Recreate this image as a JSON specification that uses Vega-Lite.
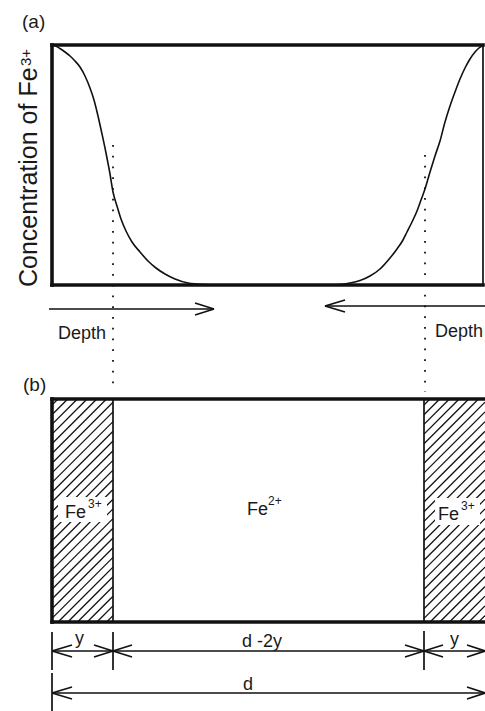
{
  "$schema": "https://vega.github.io/schema/vega-lite/v6.json",
  "width": 485,
  "height": 711,
  "autosize": {"type": "none"},
  "padding": 0,
  "background": "white",
  "config": {"view": {"stroke": null}},
  "datasets": {
    "hatch": [
      {"x": 52, "y": 405, "x2": 58, "y2": 399},
      {"x": 52, "y": 414.7, "x2": 67.7, "y2": 399},
      {"x": 52, "y": 424.4, "x2": 77.4, "y2": 399},
      {"x": 52, "y": 434.1, "x2": 87.1, "y2": 399},
      {"x": 52, "y": 443.8, "x2": 96.8, "y2": 399},
      {"x": 52, "y": 453.5, "x2": 106.5, "y2": 399},
      {"x": 52, "y": 463.2, "x2": 113, "y2": 402.2},
      {"x": 52, "y": 472.9, "x2": 113, "y2": 411.9},
      {"x": 52, "y": 482.6, "x2": 113, "y2": 421.6},
      {"x": 52, "y": 492.3, "x2": 113, "y2": 431.3},
      {"x": 52, "y": 502, "x2": 113, "y2": 441},
      {"x": 52, "y": 511.7, "x2": 113, "y2": 450.7},
      {"x": 52, "y": 521.4, "x2": 113, "y2": 460.4},
      {"x": 52, "y": 531.1, "x2": 113, "y2": 470.1},
      {"x": 52, "y": 540.8, "x2": 113, "y2": 479.8},
      {"x": 52, "y": 550.5, "x2": 113, "y2": 489.5},
      {"x": 52, "y": 560.2, "x2": 113, "y2": 499.2},
      {"x": 52, "y": 569.9, "x2": 113, "y2": 508.9},
      {"x": 52, "y": 579.6, "x2": 113, "y2": 518.6},
      {"x": 52, "y": 589.3, "x2": 113, "y2": 528.3},
      {"x": 52, "y": 599, "x2": 113, "y2": 538},
      {"x": 52, "y": 608.7, "x2": 113, "y2": 547.7},
      {"x": 52, "y": 618.4, "x2": 113, "y2": 557.4},
      {"x": 58.1, "y": 622, "x2": 113, "y2": 567.1},
      {"x": 67.8, "y": 622, "x2": 113, "y2": 576.8},
      {"x": 77.5, "y": 622, "x2": 113, "y2": 586.5},
      {"x": 87.2, "y": 622, "x2": 113, "y2": 596.2},
      {"x": 96.9, "y": 622, "x2": 113, "y2": 605.9},
      {"x": 106.6, "y": 622, "x2": 113, "y2": 615.6},
      {"x": 424, "y": 405, "x2": 430, "y2": 399},
      {"x": 424, "y": 414.7, "x2": 439.7, "y2": 399},
      {"x": 424, "y": 424.4, "x2": 449.4, "y2": 399},
      {"x": 424, "y": 434.1, "x2": 459.1, "y2": 399},
      {"x": 424, "y": 443.8, "x2": 468.8, "y2": 399},
      {"x": 424, "y": 453.5, "x2": 478.5, "y2": 399},
      {"x": 424, "y": 463.2, "x2": 485, "y2": 402.2},
      {"x": 424, "y": 472.9, "x2": 485, "y2": 411.9},
      {"x": 424, "y": 482.6, "x2": 485, "y2": 421.6},
      {"x": 424, "y": 492.3, "x2": 485, "y2": 431.3},
      {"x": 424, "y": 502, "x2": 485, "y2": 441},
      {"x": 424, "y": 511.7, "x2": 485, "y2": 450.7},
      {"x": 424, "y": 521.4, "x2": 485, "y2": 460.4},
      {"x": 424, "y": 531.1, "x2": 485, "y2": 470.1},
      {"x": 424, "y": 540.8, "x2": 485, "y2": 479.8},
      {"x": 424, "y": 550.5, "x2": 485, "y2": 489.5},
      {"x": 424, "y": 560.2, "x2": 485, "y2": 499.2},
      {"x": 424, "y": 569.9, "x2": 485, "y2": 508.9},
      {"x": 424, "y": 579.6, "x2": 485, "y2": 518.6},
      {"x": 424, "y": 589.3, "x2": 485, "y2": 528.3},
      {"x": 424, "y": 599, "x2": 485, "y2": 538},
      {"x": 424, "y": 608.7, "x2": 485, "y2": 547.7},
      {"x": 424, "y": 618.4, "x2": 485, "y2": 557.4},
      {"x": 430.1, "y": 622, "x2": 485, "y2": 567.1},
      {"x": 439.8, "y": 622, "x2": 485, "y2": 576.8},
      {"x": 449.5, "y": 622, "x2": 485, "y2": 586.5},
      {"x": 459.2, "y": 622, "x2": 485, "y2": 596.2},
      {"x": 468.9, "y": 622, "x2": 485, "y2": 605.9},
      {"x": 478.6, "y": 622, "x2": 485, "y2": 615.6}
    ],
    "boxes": [
      {"x": 58, "y": 497, "x2": 107, "y2": 522},
      {"x": 435, "y": 498, "x2": 480, "y2": 525}
    ],
    "lines": [
      {"k": "thick", "x": 52, "y": 45, "x2": 483, "y2": 45},
      {"k": "thick", "x": 52, "y": 285, "x2": 483, "y2": 285},
      {"k": "thick", "x": 52, "y": 45, "x2": 52, "y2": 285},
      {"k": "thick", "x": 52, "y": 399, "x2": 486, "y2": 399},
      {"k": "thick", "x": 52, "y": 622, "x2": 486, "y2": 622},
      {"k": "thick", "x": 52, "y": 399, "x2": 52, "y2": 622},
      {"k": "thin", "x": 483, "y": 45, "x2": 483, "y2": 285},
      {"k": "thin", "x": 113, "y": 399, "x2": 113, "y2": 622},
      {"k": "thin", "x": 424, "y": 399, "x2": 424, "y2": 622},
      {"k": "thin", "x": 49, "y": 309, "x2": 214, "y2": 309},
      {"k": "thin", "x": 214, "y": 309, "x2": 195, "y2": 303},
      {"k": "thin", "x": 214, "y": 309, "x2": 195, "y2": 315},
      {"k": "thin", "x": 325, "y": 306, "x2": 486, "y2": 306},
      {"k": "thin", "x": 325, "y": 306, "x2": 345, "y2": 300},
      {"k": "thin", "x": 325, "y": 306, "x2": 345, "y2": 312},
      {"k": "thin", "x": 52, "y": 651, "x2": 486, "y2": 651},
      {"k": "thin", "x": 52, "y": 651, "x2": 72, "y2": 645},
      {"k": "thin", "x": 52, "y": 651, "x2": 72, "y2": 657},
      {"k": "thin", "x": 113, "y": 651, "x2": 94, "y2": 645},
      {"k": "thin", "x": 113, "y": 651, "x2": 94, "y2": 657},
      {"k": "thin", "x": 113, "y": 651, "x2": 132, "y2": 645},
      {"k": "thin", "x": 113, "y": 651, "x2": 132, "y2": 657},
      {"k": "thin", "x": 424, "y": 651, "x2": 405, "y2": 645},
      {"k": "thin", "x": 424, "y": 651, "x2": 405, "y2": 657},
      {"k": "thin", "x": 424, "y": 651, "x2": 443, "y2": 645},
      {"k": "thin", "x": 424, "y": 651, "x2": 443, "y2": 657},
      {"k": "thin", "x": 485, "y": 651, "x2": 467, "y2": 645},
      {"k": "thin", "x": 485, "y": 651, "x2": 467, "y2": 657},
      {"k": "thin", "x": 52, "y": 632, "x2": 52, "y2": 670},
      {"k": "thin", "x": 113, "y": 632, "x2": 113, "y2": 670},
      {"k": "thin", "x": 424, "y": 631, "x2": 424, "y2": 670},
      {"k": "thin", "x": 52, "y": 673, "x2": 52, "y2": 711},
      {"k": "thin", "x": 52, "y": 693, "x2": 486, "y2": 693},
      {"k": "thin", "x": 52, "y": 693, "x2": 72, "y2": 687},
      {"k": "thin", "x": 52, "y": 693, "x2": 72, "y2": 699},
      {"k": "thin", "x": 485, "y": 693, "x2": 467, "y2": 687},
      {"k": "thin", "x": 485, "y": 693, "x2": 467, "y2": 699},
      {"k": "dot", "x": 113, "y": 145, "x2": 113, "y2": 392},
      {"k": "dot", "x": 425, "y": 155, "x2": 425, "y2": 392}
    ],
    "curve": [
      {"x": 52, "y": 45}, {"x": 56, "y": 46}, {"x": 60, "y": 48.5}, {"x": 65, "y": 52},
      {"x": 70, "y": 56}, {"x": 75, "y": 61}, {"x": 80, "y": 67}, {"x": 85, "y": 76},
      {"x": 90, "y": 88}, {"x": 94, "y": 100}, {"x": 98, "y": 116}, {"x": 102, "y": 134},
      {"x": 106, "y": 153}, {"x": 110, "y": 174}, {"x": 113, "y": 192}, {"x": 117, "y": 206},
      {"x": 121, "y": 219}, {"x": 126, "y": 231}, {"x": 132, "y": 242}, {"x": 140, "y": 252},
      {"x": 148, "y": 261}, {"x": 156, "y": 268}, {"x": 165, "y": 274}, {"x": 175, "y": 279},
      {"x": 188, "y": 283}, {"x": 205, "y": 284.5}, {"x": 225, "y": 285},
      {"x": 325, "y": 285}, {"x": 340, "y": 284.5}, {"x": 350, "y": 283}, {"x": 360, "y": 280.5},
      {"x": 370, "y": 276}, {"x": 380, "y": 269}, {"x": 390, "y": 258}, {"x": 397, "y": 249},
      {"x": 403, "y": 240}, {"x": 407, "y": 232}, {"x": 412, "y": 222}, {"x": 417, "y": 211},
      {"x": 421, "y": 200}, {"x": 425, "y": 189}, {"x": 430, "y": 172}, {"x": 435, "y": 156},
      {"x": 440, "y": 141}, {"x": 445, "y": 122}, {"x": 450, "y": 106}, {"x": 455, "y": 92},
      {"x": 460, "y": 79}, {"x": 465, "y": 68}, {"x": 470, "y": 59}, {"x": 475, "y": 52},
      {"x": 479, "y": 48}, {"x": 483, "y": 45}
    ],
    "texts": [
      {"k": "panel", "t": "(a)", "x": 22, "y": 28},
      {"k": "panel", "t": "(b)", "x": 23, "y": 391},
      {"k": "label", "t": "Depth", "x": 58, "y": 339},
      {"k": "label", "t": "Depth", "x": 435, "y": 337},
      {"k": "label", "t": "y", "x": 75, "y": 644},
      {"k": "label", "t": "y", "x": 450, "y": 645},
      {"k": "label", "t": "d -2y", "x": 242, "y": 647},
      {"k": "label", "t": "d", "x": 243, "y": 690},
      {"k": "label", "t": "Fe", "x": 65, "y": 518},
      {"k": "label", "t": "Fe", "x": 247, "y": 515},
      {"k": "label", "t": "Fe", "x": 438, "y": 520},
      {"k": "sup", "t": "3+", "x": 88, "y": 508},
      {"k": "sup", "t": "2+", "x": 268, "y": 505},
      {"k": "sup", "t": "3+", "x": 461, "y": 510},
      {"k": "ytitle", "t": "Concentration of Fe", "x": 37, "y": 287},
      {"k": "ysup", "t": "3+", "x": 31, "y": 66}
    ]
  },
  "layer": [
    {
      "data": {"name": "hatch"},
      "mark": {"type": "rule", "color": "#111", "strokeWidth": 1.3},
      "encoding": {
        "x": {"field": "x", "type": "quantitative", "scale": {"domain": [0, 485], "nice": false, "zero": false}, "axis": null},
        "y": {"field": "y", "type": "quantitative", "scale": {"domain": [0, 711], "nice": false, "zero": false, "reverse": true}, "axis": null},
        "x2": {"field": "x2"},
        "y2": {"field": "y2"}
      }
    },
    {
      "data": {"name": "boxes"},
      "mark": {"type": "rect", "fill": "white"},
      "encoding": {
        "x": {"field": "x", "type": "quantitative", "axis": null},
        "y": {"field": "y", "type": "quantitative", "axis": null},
        "x2": {"field": "x2"},
        "y2": {"field": "y2"}
      }
    },
    {
      "data": {"name": "curve"},
      "mark": {"type": "line", "color": "#111", "strokeWidth": 1.6, "interpolate": "monotone"},
      "encoding": {
        "x": {"field": "x", "type": "quantitative", "axis": null},
        "y": {"field": "y", "type": "quantitative", "axis": null}
      }
    },
    {
      "data": {"name": "lines"},
      "transform": [{"filter": "datum.k === 'thick'"}],
      "mark": {"type": "rule", "color": "#111", "strokeWidth": 3.6, "strokeCap": "square"},
      "encoding": {
        "x": {"field": "x", "type": "quantitative", "axis": null},
        "y": {"field": "y", "type": "quantitative", "axis": null},
        "x2": {"field": "x2"},
        "y2": {"field": "y2"}
      }
    },
    {
      "data": {"name": "lines"},
      "transform": [{"filter": "datum.k === 'thin'"}],
      "mark": {"type": "rule", "color": "#111", "strokeWidth": 1.7},
      "encoding": {
        "x": {"field": "x", "type": "quantitative", "axis": null},
        "y": {"field": "y", "type": "quantitative", "axis": null},
        "x2": {"field": "x2"},
        "y2": {"field": "y2"}
      }
    },
    {
      "data": {"name": "lines"},
      "transform": [{"filter": "datum.k === 'dot'"}],
      "mark": {"type": "rule", "color": "#111", "strokeWidth": 1.8, "strokeDash": [1.8, 8.95]},
      "encoding": {
        "x": {"field": "x", "type": "quantitative", "axis": null},
        "y": {"field": "y", "type": "quantitative", "axis": null},
        "x2": {"field": "x2"},
        "y2": {"field": "y2"}
      }
    },
    {
      "data": {"name": "texts"},
      "transform": [{"filter": "datum.k === 'panel'"}],
      "mark": {"type": "text", "font": "Liberation Sans", "fontSize": 19, "align": "left", "baseline": "alphabetic", "color": "#1a1a1a"},
      "encoding": {
        "x": {"field": "x", "type": "quantitative", "axis": null},
        "y": {"field": "y", "type": "quantitative", "axis": null},
        "text": {"field": "t"}
      }
    },
    {
      "data": {"name": "texts"},
      "transform": [{"filter": "datum.k === 'label'"}],
      "mark": {"type": "text", "font": "Liberation Sans", "fontSize": 18, "align": "left", "baseline": "alphabetic", "color": "#1a1a1a"},
      "encoding": {
        "x": {"field": "x", "type": "quantitative", "axis": null},
        "y": {"field": "y", "type": "quantitative", "axis": null},
        "text": {"field": "t"}
      }
    },
    {
      "data": {"name": "texts"},
      "transform": [{"filter": "datum.k === 'sup'"}],
      "mark": {"type": "text", "font": "Liberation Sans", "fontSize": 12, "align": "left", "baseline": "alphabetic", "color": "#1a1a1a"},
      "encoding": {
        "x": {"field": "x", "type": "quantitative", "axis": null},
        "y": {"field": "y", "type": "quantitative", "axis": null},
        "text": {"field": "t"}
      }
    },
    {
      "data": {"name": "texts"},
      "transform": [{"filter": "datum.k === 'ytitle'"}],
      "mark": {"type": "text", "font": "Liberation Sans", "fontSize": 25, "angle": 270, "align": "left", "baseline": "alphabetic", "color": "#1a1a1a"},
      "encoding": {
        "x": {"field": "x", "type": "quantitative", "axis": null},
        "y": {"field": "y", "type": "quantitative", "axis": null},
        "text": {"field": "t"}
      }
    },
    {
      "data": {"name": "texts"},
      "transform": [{"filter": "datum.k === 'ysup'"}],
      "mark": {"type": "text", "font": "Liberation Sans", "fontSize": 15, "angle": 270, "align": "left", "baseline": "alphabetic", "color": "#1a1a1a"},
      "encoding": {
        "x": {"field": "x", "type": "quantitative", "axis": null},
        "y": {"field": "y", "type": "quantitative", "axis": null},
        "text": {"field": "t"}
      }
    }
  ]
}
